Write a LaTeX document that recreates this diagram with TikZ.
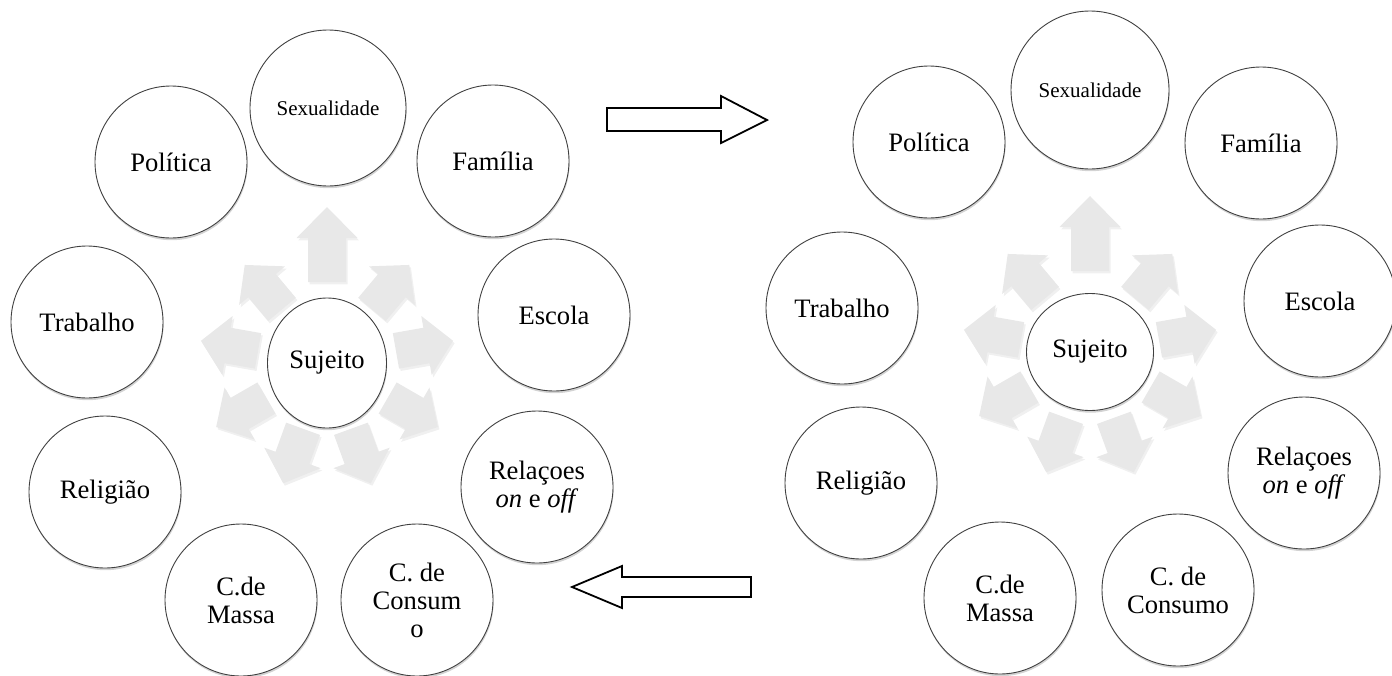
\documentclass[tikz,border=0pt]{standalone}
\usepackage{fontspec}
\setmainfont{Liberation Serif}
\usetikzlibrary{shapes.geometric,shadows}

\tikzset{
  area/.style={circle, draw=black!75, line width=0.45pt, fill=white,
    minimum size=76pt, inner sep=0pt, align=center,
    font=\fontsize{13.3}{14}\selectfont,
    drop shadow={opacity=0.35, shadow xshift=0.3pt, shadow yshift=-1.1pt}},
  subject/.style={ellipse, draw=black!75, line width=0.45pt, fill=white,
    inner sep=0pt, font=\fontsize{13.3}{14}\selectfont,
    drop shadow={opacity=0.35, shadow xshift=0.3pt, shadow yshift=-1.1pt}},
  spoke/.style={fill=black!9,
    drop shadow={opacity=0.12, shadow xshift=0.8pt, shadow yshift=-1.2pt}},
  bigarrow/.style={draw=black, line width=0.9pt, fill=white, line join=miter},
}

\begin{document}
\begin{tikzpicture}[x=0.5pt,y=-0.5pt]
    \useasboundingbox (0,0) rectangle (1392,675);

    % left cluster
    \node[subject, minimum width=59.5pt, minimum height=65pt] (sujL) at (327,363) {Sujeito};
    \node[area, minimum size=78pt, font=\fontsize{10.5}{12}\selectfont] (sexL) at (328,108) {Sexualidade};
    \node[area] (polL) at (171,162) {Política};
    \node[area] (famL) at (493,161) {Família};
    \node[area] (escL) at (554,315) {Escola};
    \node[area] (traL) at (87,322) {Trabalho};
    \node[area] (relL) at (105,492) {Religião};
    \node[area] (onoL) at (537,487) {Relaçoes\\\textit{on} e \textit{off}};
    \node[area] (masL) at (241,600) {C.de\\Massa};
    \node[area] (conL) at (417,600) {C. de\\Consum\\o};

    % arrows out of sujL
    \fill[spoke, shift={(sujL.center)}, rotate=90] (40.5pt,-9.5pt) -- (62.5pt,-9.5pt) -- (62.5pt,-15.25pt)
        -- (78pt,0pt) -- (62.5pt,15.25pt) -- (62.5pt,9.5pt) -- (40.5pt,9.5pt) -- cycle;
    \foreach \a in {50,10,-30,-70,-110,-150,170,130}
        \fill[spoke, shift={(sujL.center)}, rotate=\a] (35pt,-9pt) -- (50.5pt,-9pt) -- (50.5pt,-15pt)
            -- (64pt,0pt) -- (50.5pt,15pt) -- (50.5pt,9pt) -- (35pt,9pt) -- cycle;

    % right cluster
    \node[subject, minimum width=63.5pt, minimum height=58.5pt] (sujR) at (1090,352) {Sujeito};
    \node[area, minimum size=79pt, font=\fontsize{10.5}{12}\selectfont] (sexR) at (1090,90) {Sexualidade};
    \node[area] (polR) at (929,142) {Política};
    \node[area] (famR) at (1261,143) {Família};
    \node[area] (escR) at (1320,301) {Escola};
    \node[area] (traR) at (842,308) {Trabalho};
    \node[area] (relR) at (861,483) {Religião};
    \node[area] (onoR) at (1304,473) {Relaçoes\\\textit{on} e \textit{off}};
    \node[area] (masR) at (1000,598) {C.de\\Massa};
    \node[area] (conR) at (1178,590) {C. de\\Consumo};

    % arrows out of sujR
    \fill[spoke, shift={(sujR.center)}, rotate=90] (40.5pt,-9.5pt) -- (62.5pt,-9.5pt) -- (62.5pt,-15.25pt)
        -- (78pt,0pt) -- (62.5pt,15.25pt) -- (62.5pt,9.5pt) -- (40.5pt,9.5pt) -- cycle;
    \foreach \a in {50,10,-30,-70,-110,-150,170,130}
        \fill[spoke, shift={(sujR.center)}, rotate=\a] (35pt,-9pt) -- (50.5pt,-9pt) -- (50.5pt,-15pt)
            -- (64pt,0pt) -- (50.5pt,15pt) -- (50.5pt,9pt) -- (35pt,9pt) -- cycle;

    % block arrows between the clusters
    \draw[bigarrow] (607,108) -- (721,108) -- (721,96) -- (767,120) -- (721,143) -- (721,131) -- (607,131) -- cycle;
    \draw[bigarrow] (751,577) -- (622,577) -- (622,566) -- (572,587) -- (622,608) -- (622,597) -- (751,597) -- cycle;

\end{tikzpicture}
\end{document}
